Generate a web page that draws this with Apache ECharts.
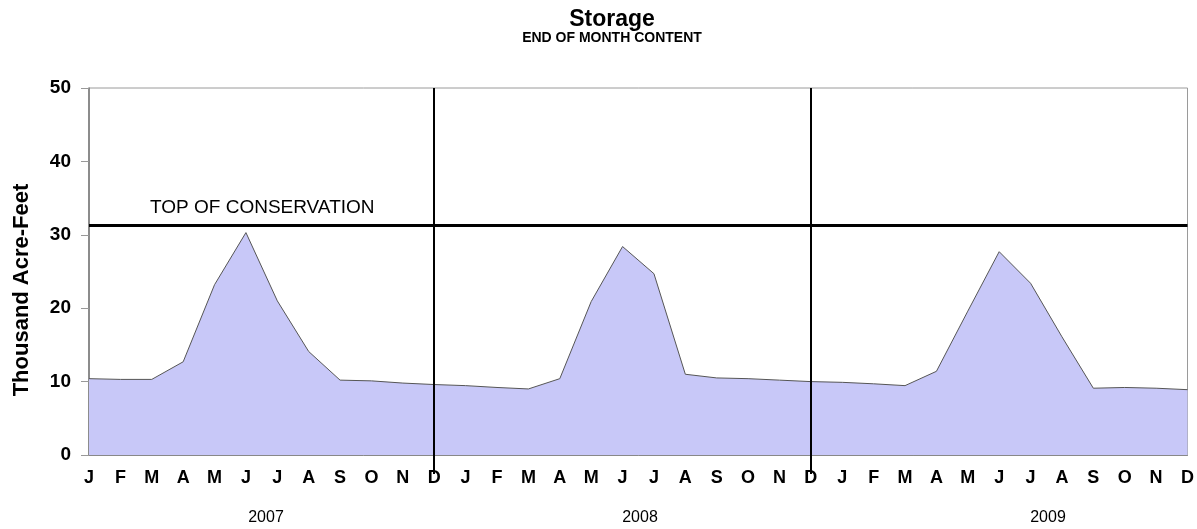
<!DOCTYPE html>
<html>
<head>
<meta charset="utf-8">
<script src="https://cdn.jsdelivr.net/npm/echarts@6/dist/echarts.min.js"></script>
<style>
  html, body { margin: 0; padding: 0; background: #fff; }
  #chart { width: 1197px; height: 529px; }
</style>
</head>
<body>
<div id="chart"></div>
<script>
// month letters, three years side by side
const months = ["J","F","M","A","M","J","J","A","S","O","N","D"];
const categories = [].concat(months, months, months);
const years = ["2007", "2008", "2009"];

// end of month storage, thousand acre-feet
const storage2007 = [10.4, 10.3, 10.3, 12.7, 23.2, 30.3, 21.0, 14.1, 10.2, 10.1, 9.8, 9.6];
const storage2008 = [9.45, 9.2, 9.0, 10.4, 20.9, 28.4, 24.7, 11.0, 10.5, 10.4, 10.2, 10.0];
const storage2009 = [9.9, 9.7, 9.45, 11.4, 19.6, 27.7, 23.4, 16.1, 9.1, 9.2, 9.1, 8.9];
const storage = [].concat(storage2007, storage2008, storage2009);

const topOfConservation = 31.3;
const yearDividers = [11, 23];   // the two December columns with a vertical rule
const yTicks = [0, 50, 10];      // min, max, step

const font = "Liberation Sans, Arial, Helvetica, sans-serif";
const chart = echarts.init(document.getElementById("chart"));

chart.setOption({
  animation: false,
  title: {
    text: "Storage",
    subtext: "END OF MONTH CONTENT",
    left: 607,
    top: 3,
    textAlign: "center",
    itemGap: 0,
    textStyle: { fontFamily: font, fontSize: 23, fontWeight: "bold", color: "#000" },
    subtextStyle: { fontFamily: font, fontSize: 14, fontWeight: "bold", color: "#000" }
  },
  grid: {
    left: 89, right: 9, top: 88, bottom: 74,
    show: true, borderColor: "#9a9a9a", borderWidth: 1
  },
  xAxis: {
    type: "category",
    data: categories,
    boundaryGap: false,
    axisLine: { lineStyle: { color: "#888", width: 1 } },
    axisTick: {
      interval: (i) => yearDividers.indexOf(i) >= 0,
      length: 19,
      lineStyle: { color: "#000", width: 2 }
    },
    axisLabel: {
      interval: 0, margin: 14,
      fontFamily: font, fontSize: 18, fontWeight: "bold", color: "#000"
    },
    splitLine: { show: false }
  },
  yAxis: {
    type: "value",
    min: yTicks[0], max: yTicks[1], interval: yTicks[2],
    axisLine: { show: true, lineStyle: { color: "#777", width: 1.5 } },
    axisTick: { show: true, length: 8, lineStyle: { color: "#999" } },
    axisLabel: { margin: 18, fontFamily: font, fontSize: 19, fontWeight: "bold", color: "#000" },
    splitLine: { show: false }
  },
  series: [{
    type: "line",
    data: storage,
    symbol: "none",
    lineStyle: { color: "#555", width: 1 },
    areaStyle: { color: "#c8c8f8", opacity: 1 },
    markLine: {
      silent: true,
      symbol: "none",
      animation: false,
      data: [
        {
          yAxis: topOfConservation,
          lineStyle: { color: "#000", width: 3, type: "solid" },
          label: {
            show: true,
            position: "insideStartTop",
            formatter: "TOP OF CONSERVATION",
            distance: [61, 8],
            fontFamily: font, fontSize: 19, color: "#000"
          }
        }
      ].concat(yearDividers.map((i) => ({
        xAxis: i,
        lineStyle: { color: "#000", width: 2, type: "solid" },
        label: { show: false }
      })))
    }
  }],
  graphic: [
    {
      type: "text", x: 22, y: 290, rotation: Math.PI / 2,
      style: {
        text: "Thousand Acre-Feet", fontFamily: font, fontSize: 22, fontWeight: "bold",
        fill: "#000", textAlign: "center", textVerticalAlign: "middle"
      }
    }
  ].concat(years.map((y, k) => ({
    type: "text", x: [266, 640, 1048][k], y: 518,
    style: {
      text: y, fontFamily: font, fontSize: 16, fill: "#000",
      textAlign: "center", textVerticalAlign: "middle"
    }
  })))
});
</script>
</body>
</html>
